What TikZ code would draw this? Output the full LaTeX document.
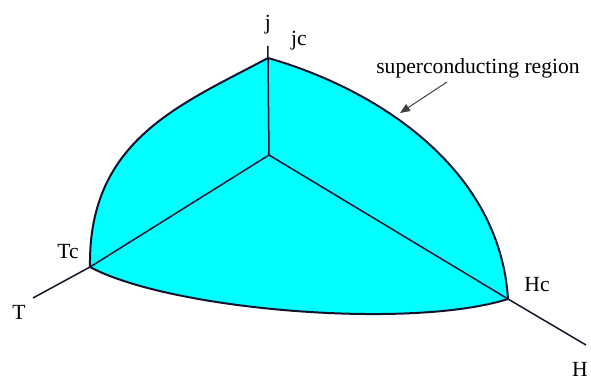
\documentclass[tikz,border=0pt]{standalone}
\usepackage{fontspec}
\setmainfont{Liberation Serif}
\usetikzlibrary{arrows.meta}
\definecolor{scfill}{RGB}{0,255,255}
\definecolor{scline}{RGB}{20,20,45}

\begin{document}
\begin{tikzpicture}[x=0.5pt,y=-0.5pt,>={Triangle[length=5pt,width=4pt]},
  every node/.style={font=\fontsize{10.8}{13}\selectfont,inner sep=0pt},
  axisline/.style={draw=scline,line width=0.75pt},
  rim/.style={draw=scline,line width=1pt,line join=round}]
  \useasboundingbox (0,0) rectangle (591,380);
  \coordinate (O) at (269,155);
  \coordinate (jc) at (268,58);
  \coordinate (tc) at (90,267);
  \coordinate (hc) at (508,299);
  \coordinate (jend) at (268,46);
  \coordinate (tend) at (33,298);
  \coordinate (hend) at (586,345);
  \fill[scfill] (tc) .. controls (88,140) and (180,105) .. (jc)
    .. controls (380,90) and (500,170) .. (hc)
    .. controls (410,330) and (170,310) .. cycle;
  \draw[axisline] (O) -- (tc) (O) -- (hc) (O) -- (jc);
  \draw[rim] (tc) .. controls (88,140) and (180,105) .. (jc)
    .. controls (380,90) and (500,170) .. (hc)
    .. controls (410,330) and (170,310) .. cycle;
  \draw[axisline] (jc) -- (jend) (tc) -- (tend) (hc) -- (hend);
  \node (lj) at (268,25) {j};
  \node (ljc) at (299,41) {jc};
  \node (ltc) at (68,252) {Tc};
  \node (lt) at (19,312) {T};
  \node (lhc) at (537,285) {Hc};
  \node (lh) at (580,369) {H};
  \node (lreg) at (478,68) {superconducting region};
  \coordinate (regtail) at (447,82);
  \coordinate (regtip) at (400,113);
  \draw[->,black!75,line width=0.5pt] (regtail) -- (regtip);
\end{tikzpicture}
\end{document}
